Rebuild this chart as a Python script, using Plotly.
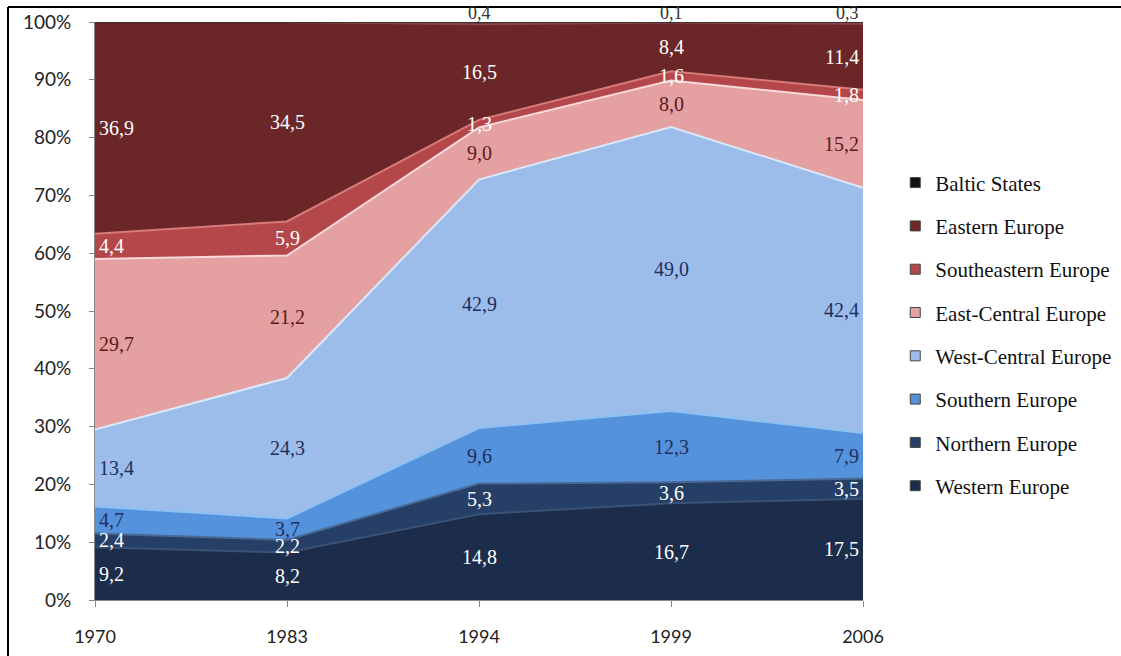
import plotly.graph_objects as go

# Share of each region by survey year (percent), bottom of the stack first
years = ["1970", "1983", "1994", "1999", "2006"]
regions = [
    "Western Europe",
    "Northern Europe",
    "Southern Europe",
    "West-Central Europe",
    "East-Central Europe",
    "Southeastern Europe",
    "Eastern Europe",
    "Baltic States",
]
western = [9.2, 8.2, 14.8, 16.7, 17.5]
northern = [2.4, 2.2, 5.3, 3.6, 3.5]
southern = [4.7, 3.7, 9.6, 12.3, 7.9]
west_central = [13.4, 24.3, 42.9, 49.0, 42.4]
east_central = [29.7, 21.2, 9.0, 8.0, 15.2]
southeastern = [4.4, 5.9, 1.3, 1.6, 1.8]
eastern = [36.9, 34.5, 16.5, 8.4, 11.4]
baltic = [0.0, 0.0, 0.4, 0.1, 0.3]
series = [western, northern, southern, west_central, east_central,
          southeastern, eastern, baltic]

fills = ["#1B2D4B", "#263F66", "#5592DC", "#9CBDEA", "#E5A1A1",
         "#B4474A", "#6B2628", "#111111"]
edges = ["#3A5275", "#4A6A96", "#8CC0F2", "#D9E9FB", "#F9DADA",
         "#D77A7A", "#8E4446", "#333333"]
label_colors = ["#FFFFFF", "#FFFFFF", "#1F2F5F", "#1F2F5F", "#5A1A1C",
                "#FFFFFF", "#FFFFFF", "#333333"]

LABEL_FONT = "Liberation Serif"
AXIS_FONT = "Lato"

xs = list(range(len(years)))
n = len(regions)
fig = go.Figure()
for i, (name, vals) in enumerate(zip(regions, series)):
    fig.add_trace(go.Scatter(
        x=xs, y=vals, name=name, mode="lines",
        stackgroup="one", groupnorm="percent",
        line=dict(color=edges[i], width=2),
        fillcolor=fills[i], showlegend=False,
    ))

# Legend entries with square swatches, top of the stack listed first
for i in reversed(range(n)):
    fig.add_trace(go.Scatter(
        x=[None], y=[None], name=regions[i], mode="markers",
        marker=dict(symbol="square", size=10, color=fills[i],
                    line=dict(color="#444444", width=1)),
        legendgroup=regions[i],
    ))

# Value labels in the middle of each band (positions normalised like the stack)
totals = [sum(s[j] for s in series) for j in xs]
for j in xs:
    base = 0.0
    for i, vals in enumerate(series):
        v = vals[j]
        share = v / totals[j] * 100
        if v > 0:
            txt = f"{v:.1f}".replace(".", ",")
            if j == 0:
                xa, xsh = "left", 2
            elif j == len(xs) - 1:
                xa, xsh = "right", -2
            else:
                xa, xsh = "center", 0
            if i == len(series) - 1:
                # thin top band: label sits just above the stack
                y, ysh, size = base + share, 9, 18
            else:
                y, ysh, size = base + share / 2, 0, 20
            fig.add_annotation(
                x=j, y=y, text=txt, showarrow=False,
                xanchor=xa, yanchor="middle", xshift=xsh, yshift=ysh,
                font=dict(family=LABEL_FONT, size=size, color=label_colors[i]),
            )
        base += share

W, H = 1121, 656
ml, mr, mt, mb = 95, 258, 22, 56
pw, ph = W - ml - mr, H - mt - mb

# Outer frame along the top and left edges of the chart
fx0 = (8 - ml) / pw
fy_top = (H - mb - 7) / ph
fig.add_shape(type="line", xref="paper", yref="paper", layer="below",
              x0=fx0, x1=(W - ml) / pw + 0.01, y0=fy_top, y1=fy_top,
              line=dict(color="black", width=2))
fig.add_shape(type="line", xref="paper", yref="paper", layer="below",
              x0=fx0, x1=fx0, y0=fy_top, y1=-mb / ph - 0.01,
              line=dict(color="black", width=2))

fig.update_layout(
    width=W, height=H,
    margin=dict(l=ml, r=mr, t=mt, b=mb, autoexpand=False),
    paper_bgcolor="white", plot_bgcolor="white",
    showlegend=True,
    legend=dict(
        x=1.042, y=0.757, xanchor="left", yanchor="top",
        traceorder="grouped", tracegroupgap=13, itemwidth=30,
        font=dict(family=LABEL_FONT, size=21, color="#111111"),
    ),
    xaxis=dict(
        range=[0, len(xs) - 1], tickmode="array", tickvals=xs, ticktext=years,
        showgrid=False, zeroline=False, showline=True, linecolor="#888888",
        ticks="outside", ticklen=6, tickcolor="#888888",
        ticklabelstandoff=14,
        tickfont=dict(family=AXIS_FONT, size=18, color="#222222"),
    ),
    yaxis=dict(
        range=[0, 100], tickvals=list(range(0, 101, 10)),
        ticktext=[f"{v}%" for v in range(0, 101, 10)],
        showgrid=False, zeroline=False, showline=True, linecolor="#888888",
        ticks="outside", ticklen=5, tickcolor="#888888",
        ticklabelstandoff=14,
        tickfont=dict(family=AXIS_FONT, size=19, color="#222222"),
    ),
)

fig.write_html("out.html")
